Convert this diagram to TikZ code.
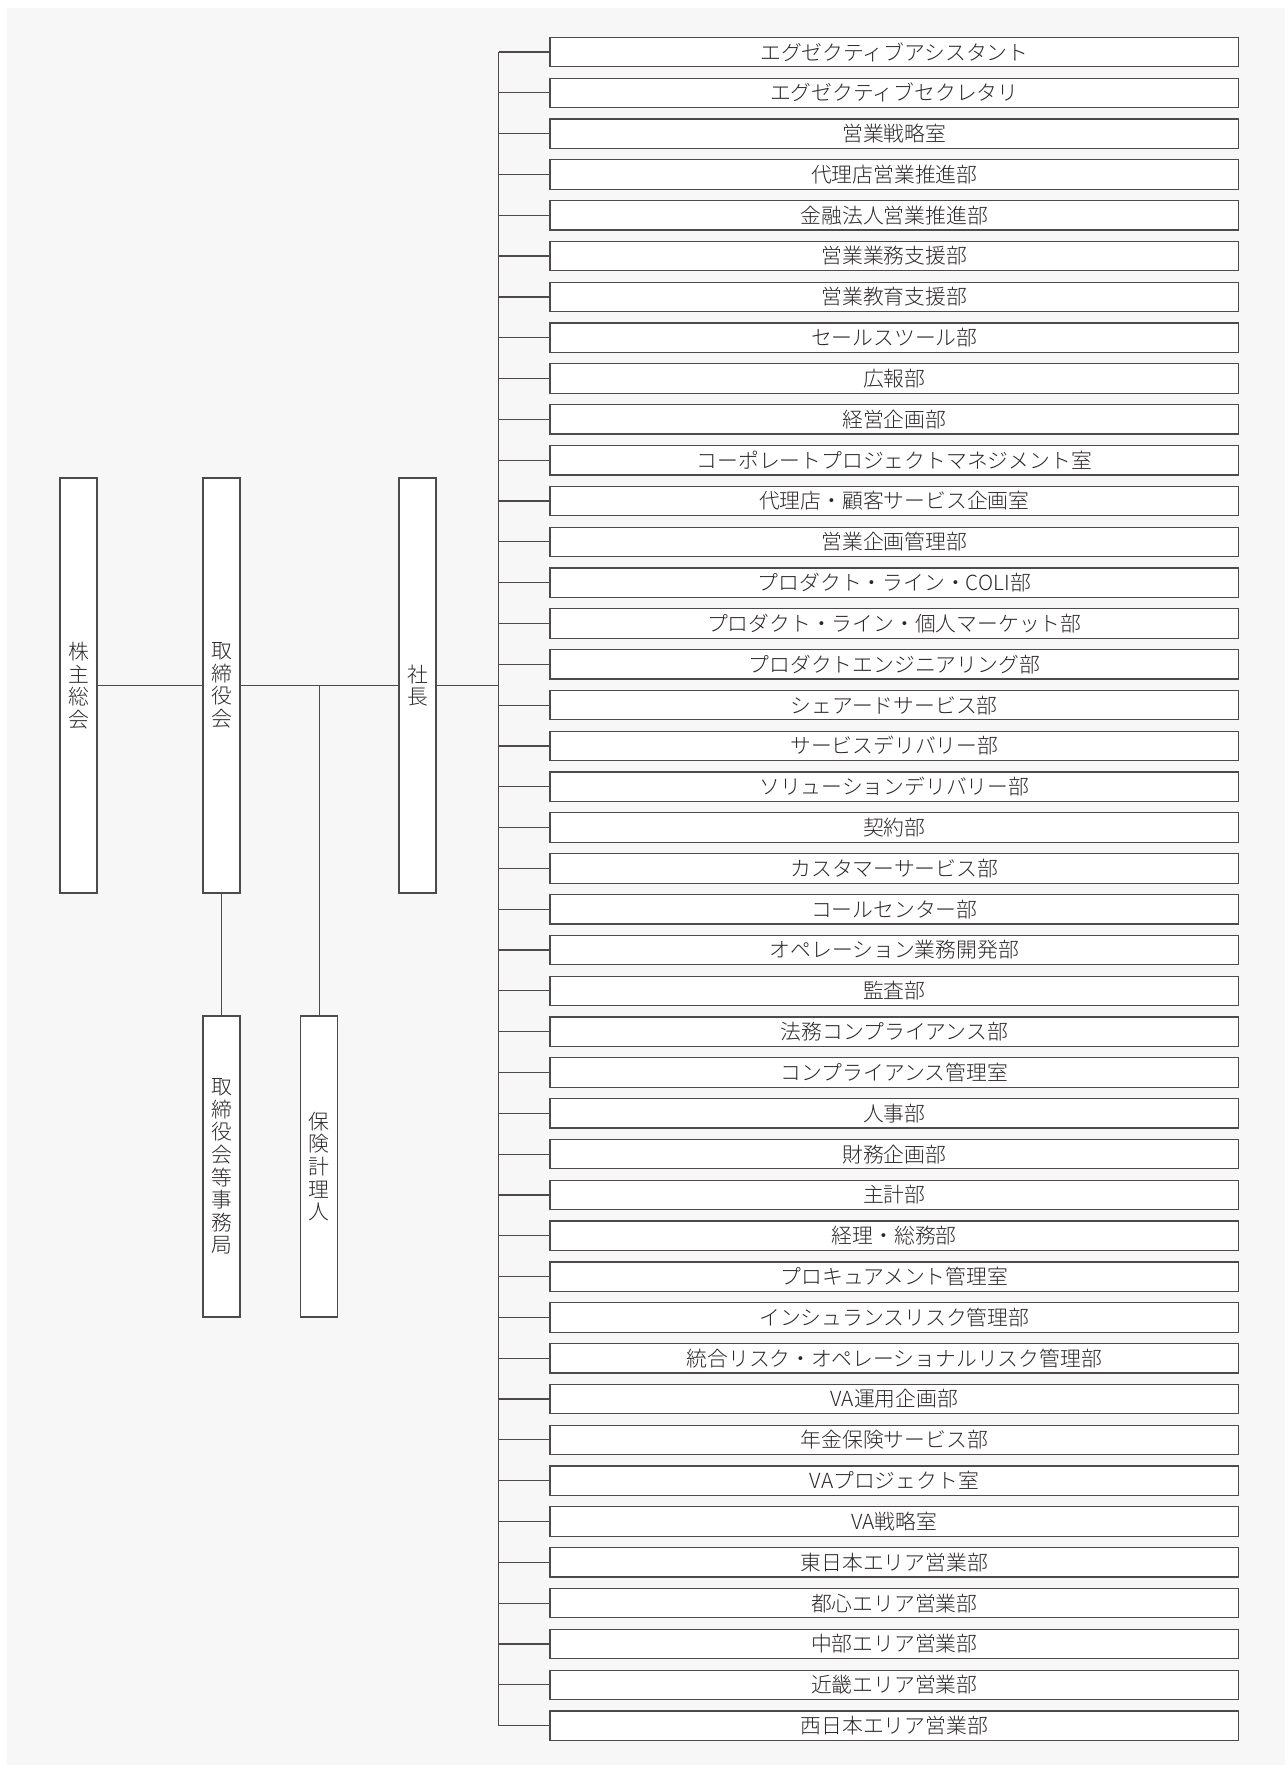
\documentclass[tikz,border=0pt]{standalone}
\usepackage{fontspec}
\setmainfont{Noto Sans CJK JP}[UprightFont={* Light}]
\usetikzlibrary{positioning}
\definecolor{bggray}{HTML}{F7F7F7}
\definecolor{linegray}{HTML}{4E494A}
\definecolor{inkgray}{HTML}{2B2728}

\begin{document}
\begin{tikzpicture}[
    x=0.5pt, y=-0.5pt,
    font=\fontsize{10.4}{11.3}\selectfont,
    dept/.style={rectangle, draw=linegray, fill=white, text=inkgray, line width=0.6pt, outer sep=0pt, inner sep=0pt, minimum width=344.35pt, minimum height=14.7pt},
    vbox/.style={rectangle, draw=linegray, fill=white, text=inkgray, line width=0.6pt, outer sep=0pt, inner sep=0pt, align=center, minimum width=18.5pt, minimum height=207.5pt},
    link/.style={draw=linegray, line width=0.6pt}
]
\fill[bggray] (7,8) rectangle (1285,1765);
\useasboundingbox (0,0) rectangle (1285,1765);

% governance
\node[vbox] (agm) at (78.5,685.5) {株\\主\\総\\会};
\node[vbox, right=53pt of agm] (board) {取\\締\\役\\会};
\node[vbox, right=79.5pt of board] (pres) {社\\長};
\node[vbox, minimum height=150.5pt, below=61.5pt of board] (boardsec) {取\\締\\役\\会\\等\\事\\務\\局};
\node[vbox, minimum height=150.5pt, right=30.35pt of boardsec] (actuary) {保\\険\\計\\理\\人};
\coordinate (bus) at (498.7,685.5);

\draw[link] (agm) -- (board);
\draw[link] (board) -- (pres);
\draw[link] (pres) -- (bus);
\draw[link] (board) -- (boardsec);
\draw[link] (actuary.north) -- (actuary.north |- board);

% departments
\node[dept] (assistant) at (894.35,52) {エグゼクティブアシスタント};
\node[dept, below=5.71pt of assistant] (secretary) {エグゼクティブセクレタリ};
\node[dept, below=5.71pt of secretary] (salesstrat) {営業戦略室};
\node[dept, below=5.71pt of salesstrat] (agencysales) {代理店営業推進部};
\node[dept, below=5.71pt of agencysales] (finsales) {金融法人営業推進部};
\node[dept, below=5.71pt of finsales] (salesops) {営業業務支援部};
\node[dept, below=5.71pt of salesops] (salesedu) {営業教育支援部};
\node[dept, below=5.71pt of salesedu] (salestools) {セールスツール部};
\node[dept, below=5.71pt of salestools] (pr) {広報部};
\node[dept, below=5.71pt of pr] (corpplan) {経営企画部};
\node[dept, below=5.71pt of corpplan] (cpmo) {コーポレートプロジェクトマネジメント室};
\node[dept, below=5.71pt of cpmo] (custplan) {代理店・顧客サービス企画室};
\node[dept, below=5.71pt of custplan] (salesadmin) {営業企画管理部};
\node[dept, below=5.71pt of salesadmin] (coli) {プロダクト・ライン・COLI部};
\node[dept, below=5.71pt of coli] (retail) {プロダクト・ライン・個人マーケット部};
\node[dept, below=5.71pt of retail] (prodeng) {プロダクトエンジニアリング部};
\node[dept, below=5.71pt of prodeng] (shared) {シェアードサービス部};
\node[dept, below=5.71pt of shared] (servdel) {サービスデリバリー部};
\node[dept, below=5.71pt of servdel] (soldel) {ソリューションデリバリー部};
\node[dept, below=5.71pt of soldel] (contract) {契約部};
\node[dept, below=5.71pt of contract] (custserv) {カスタマーサービス部};
\node[dept, below=5.71pt of custserv] (callcenter) {コールセンター部};
\node[dept, below=5.71pt of callcenter] (opsdev) {オペレーション業務開発部};
\node[dept, below=5.71pt of opsdev] (audit) {監査部};
\node[dept, below=5.71pt of audit] (legal) {法務コンプライアンス部};
\node[dept, below=5.71pt of legal] (compliance) {コンプライアンス管理室};
\node[dept, below=5.71pt of compliance] (hr) {人事部};
\node[dept, below=5.71pt of hr] (finplan) {財務企画部};
\node[dept, below=5.71pt of finplan] (accounting) {主計部};
\node[dept, below=5.71pt of accounting] (generalaff) {経理・総務部};
\node[dept, below=5.71pt of generalaff] (procure) {プロキュアメント管理室};
\node[dept, below=5.71pt of procure] (insrisk) {インシュランスリスク管理部};
\node[dept, below=5.71pt of insrisk] (oprisk) {統合リスク・オペレーショナルリスク管理部};
\node[dept, below=5.71pt of oprisk] (vaplan) {VA運用企画部};
\node[dept, below=5.71pt of vaplan] (pension) {年金保険サービス部};
\node[dept, below=5.71pt of pension] (vaproject) {VAプロジェクト室};
\node[dept, below=5.71pt of vaproject] (vastrat) {VA戦略室};
\node[dept, below=5.71pt of vastrat] (east) {東日本エリア営業部};
\node[dept, below=5.71pt of east] (tokyo) {都心エリア営業部};
\node[dept, below=5.71pt of tokyo] (chubu) {中部エリア営業部};
\node[dept, below=5.71pt of chubu] (kinki) {近畿エリア営業部};
\node[dept, below=5.71pt of kinki] (westjp) {西日本エリア営業部};

\draw[link] (assistant.west -| bus) -- (westjp.west -| bus);
\draw[link] (assistant.west) -- (assistant.west -| bus);
\draw[link] (secretary.west) -- (secretary.west -| bus);
\draw[link] (salesstrat.west) -- (salesstrat.west -| bus);
\draw[link] (agencysales.west) -- (agencysales.west -| bus);
\draw[link] (finsales.west) -- (finsales.west -| bus);
\draw[link] (salesops.west) -- (salesops.west -| bus);
\draw[link] (salesedu.west) -- (salesedu.west -| bus);
\draw[link] (salestools.west) -- (salestools.west -| bus);
\draw[link] (pr.west) -- (pr.west -| bus);
\draw[link] (corpplan.west) -- (corpplan.west -| bus);
\draw[link] (cpmo.west) -- (cpmo.west -| bus);
\draw[link] (custplan.west) -- (custplan.west -| bus);
\draw[link] (salesadmin.west) -- (salesadmin.west -| bus);
\draw[link] (coli.west) -- (coli.west -| bus);
\draw[link] (retail.west) -- (retail.west -| bus);
\draw[link] (prodeng.west) -- (prodeng.west -| bus);
\draw[link] (shared.west) -- (shared.west -| bus);
\draw[link] (servdel.west) -- (servdel.west -| bus);
\draw[link] (soldel.west) -- (soldel.west -| bus);
\draw[link] (contract.west) -- (contract.west -| bus);
\draw[link] (custserv.west) -- (custserv.west -| bus);
\draw[link] (callcenter.west) -- (callcenter.west -| bus);
\draw[link] (opsdev.west) -- (opsdev.west -| bus);
\draw[link] (audit.west) -- (audit.west -| bus);
\draw[link] (legal.west) -- (legal.west -| bus);
\draw[link] (compliance.west) -- (compliance.west -| bus);
\draw[link] (hr.west) -- (hr.west -| bus);
\draw[link] (finplan.west) -- (finplan.west -| bus);
\draw[link] (accounting.west) -- (accounting.west -| bus);
\draw[link] (generalaff.west) -- (generalaff.west -| bus);
\draw[link] (procure.west) -- (procure.west -| bus);
\draw[link] (insrisk.west) -- (insrisk.west -| bus);
\draw[link] (oprisk.west) -- (oprisk.west -| bus);
\draw[link] (vaplan.west) -- (vaplan.west -| bus);
\draw[link] (pension.west) -- (pension.west -| bus);
\draw[link] (vaproject.west) -- (vaproject.west -| bus);
\draw[link] (vastrat.west) -- (vastrat.west -| bus);
\draw[link] (east.west) -- (east.west -| bus);
\draw[link] (tokyo.west) -- (tokyo.west -| bus);
\draw[link] (chubu.west) -- (chubu.west -| bus);
\draw[link] (kinki.west) -- (kinki.west -| bus);
\draw[link] (westjp.west) -- (westjp.west -| bus);
\end{tikzpicture}
\end{document}
